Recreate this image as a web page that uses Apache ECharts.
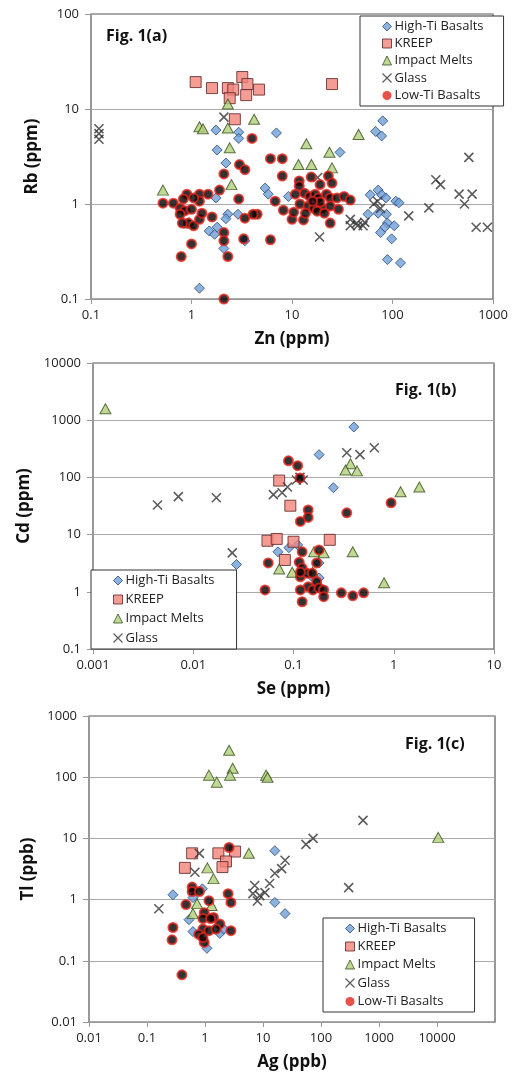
<!DOCTYPE html>
<html>
<head>
<meta charset="utf-8">
<script src="https://cdn.jsdelivr.net/npm/echarts@6/dist/echarts.min.js"></script>
<style>
body{margin:0;background:#fff;}
#main{width:513px;height:1078px;}
</style>
</head>
<body>
<div id="main"></div>
<script>
// names used in all three panels
var names = ['High-Ti Basalts','KREEP','Impact Melts','Glass','Low-Ti Basalts'];

// Fig 1(a): Zn (ppm) vs Rb (ppm)
var aHighTi = [[1.75,6.0],[2.95,5.7],[2.95,4.9],[1.8,3.7],[2.2,2.7],[1.75,1.16],[2.3,0.78],[2.2,0.7],[2.9,0.78],[1.5,0.52],[1.7,0.48],[1.8,0.57],[2.1,0.34],[3.4,0.41],[1.2,0.13],[7.0,5.6],[80,7.5],[68,5.8],[78,5.2],[30,3.5],[5.4,1.47],[5.8,1.27],[9.2,1.2],[72,1.4],[78,1.25],[60,1.25],[86,1.16],[108,1.07],[116,1.03],[72,0.8],[57,0.78],[87,0.78],[89,0.63],[104,0.59],[84,0.57],[76,0.5],[98,0.43],[89,0.26],[120,0.24]];
var aKreep = [[1.1,19.2],[1.6,16.6],[2.3,16.6],[2.6,16],[3.2,21.7],[3.6,18.3],[3.5,14],[2.4,13],[2.7,7.8],[4.7,16],[25,18.3]];
var aImpact = [[2.3,11.3],[1.2,6.5],[1.3,6.2],[2.3,6.3],[4.2,7.8],[2.4,3.9],[0.52,1.4],[2.5,1.6],[13.9,4.3],[46,5.4],[23.6,3.5],[11.6,2.6],[15.6,2.6],[25,2.4],[0.95,0.63]];
var aGlass = [[0.12,6.2],[0.12,5.5],[0.12,4.8],[2.1,8.2],[575,3.1],[18,1.9],[270,1.8],[300,1.6],[460,1.27],[620,1.27],[520,1.0],[230,0.91],[145,0.75],[680,0.57],[880,0.57],[18.8,0.45],[38,0.69],[44,0.63],[51,0.59],[38,0.59],[45,0.59],[53,0.64],[71,1.07],[65,1.0],[76,0.9]];
var aLowTi = [[0.52,1.02],[0.66,1.02],[0.9,1.27],[1.2,1.27],[0.77,0.9],[0.86,0.85],[1.0,0.88],[1.2,1.07],[1.05,1.16],[0.83,1.13],[0.77,0.78],[0.93,0.63],[1.05,0.59],[1.2,0.69],[1.27,0.8],[1.6,0.73],[0.81,0.63],[1.0,0.38],[0.79,0.28],[2.1,0.5],[2.1,0.41],[2.3,0.28],[2.1,0.1],[3.0,2.6],[3.4,2.3],[2.1,2.07],[1.9,1.4],[2.95,1.13],[3.4,0.71],[3.3,0.43],[4.5,0.78],[1.46,1.27],[4.0,4.9],[6.1,3.0],[8.0,3.0],[8,1.97],[4.1,0.78],[6.1,0.42],[6.8,1.07],[8.2,0.86],[10,0.69],[13,0.68],[11.8,1.75],[11.8,1.55],[15.5,1.92],[19,1.6],[23,1.97],[25,1.66],[10.8,1.27],[13.3,1.3],[15,1.2],[17,1.27],[18.3,1.16],[22,1.27],[24,1.16],[28,1.16],[33,1.2],[38,1.1],[12,1.0],[14.5,0.95],[16.5,0.9],[20,0.9],[24,0.95],[29,0.88],[13.6,0.8],[17.8,0.84],[21,0.8],[24,0.63],[19,1.05],[16,1.07],[10.4,0.82]];

// Fig 1(b): Se (ppm) vs Cd (ppm)
var bHighTi = [[0.4,760],[0.18,250],[0.25,66],[0.027,3.0],[0.07,5.0],[0.09,5.9],[0.11,6.6],[0.18,3.2],[0.18,1.75],[0.15,1.9],[0.17,1.4]];
var bKreep = [[0.072,88],[0.093,32],[0.055,7.8],[0.068,8.4],[0.1,7.5],[0.23,8.1],[0.082,3.6]];
var bImpact = [[0.00133,1580],[0.37,173],[0.33,135],[0.43,130],[1.17,56],[1.8,68],[0.16,5.0],[0.2,4.8],[0.39,5.0],[0.072,2.5],[0.097,2.2],[0.155,2.2],[0.8,1.44]];
var bGlass = [[0.0044,33],[0.0071,46],[0.017,44],[0.0245,4.8],[0.34,270],[0.46,250],[0.64,330],[0.116,100],[0.125,90],[0.107,90],[0.087,68],[0.077,54],[0.063,50]];
var bLowTi = [[0.089,195],[0.11,160],[0.116,98],[0.94,36],[0.34,24],[0.14,27],[0.14,20],[0.117,17],[0.056,3.2],[0.052,1.08],[0.114,3.3],[0.122,5.0],[0.18,5.4],[0.17,3.2],[0.122,2.6],[0.117,1.83],[0.137,2.1],[0.154,2.1],[0.17,1.5],[0.14,1.22],[0.117,1.08],[0.156,1.08],[0.18,1.17],[0.2,1.08],[0.2,0.82],[0.3,0.96],[0.39,0.85],[0.5,0.96],[0.122,0.67],[0.117,2.2]];

// Fig 1(c): Ag (ppb) vs Tl (ppb)
var cHighTi = [[16,6.3],[16,0.9],[24,0.59],[0.28,1.2],[0.62,1.08],[0.9,1.5],[0.53,0.47],[0.62,0.3],[1.08,0.16],[1.8,0.28],[2.1,0.33]];
var cKreep = [[0.6,5.7],[1.7,5.7],[3.3,6.1],[2.3,4.2],[0.45,3.3],[2.0,3.4]];
var cImpact = [[2.6,276],[1.17,108],[1.6,83],[3.0,140],[2.7,108],[11.3,108],[12,100],[10500,10.4],[5.7,5.7],[1.1,3.3],[1.4,2.2],[0.73,0.86],[1.3,0.8],[0.62,0.59]];
var cGlass = [[0.16,0.71],[0.67,2.8],[0.8,5.7],[530,19.7],[73,10],[55,8],[24,4.4],[300,1.57],[7.2,1.7],[8.8,1.16],[13,1.83],[16,2.7],[21,3.2],[6.7,1.25],[10.8,1.3],[8,0.95]];
var cLowTi = [[0.6,1.6],[0.6,1.35],[0.8,1.35],[0.47,0.83],[1.17,0.96],[0.97,0.61],[0.92,0.49],[1.4,0.51],[1.25,0.49],[0.92,0.33],[1.17,0.31],[1.8,0.4],[1.55,0.33],[0.78,0.27],[0.97,0.2],[0.92,0.24],[0.28,0.35],[0.27,0.22],[0.4,0.059],[2.5,1.25],[2.8,0.9],[2.8,0.31],[2.6,7.1]];

// axis ranges / names
var xNames = ['Zn (ppm)','Se (ppm)','Ag (ppb)'];
var yNames = ['Rb (ppm)','Cd (ppm)','Tl (ppb)'];
var xMin = [0.1,0.001,0.01], xMax = [1000,10,100000];
var yMin = [0.1,0.1,0.01], yMax = [100,10000,1000];
var xShowMax = [true,true,false];
var figLabels = ['Fig. 1(a)','Fig. 1(b)','Fig. 1(c)'];

var font = 'Open Sans';
var xPath = 'path://M0,0L10,10M10,0L0,10';

// marker look per group
var styles = {
	'High-Ti Basalts':{symbol:'diamond',size:[10,10],item:{color:'#6f9fd8',borderColor:'#2b4a78',borderWidth:1}},
	'KREEP':{symbol:'rect',size:11,item:{color:'#f2837b',borderColor:'#5a2323',borderWidth:1}},
	'Impact Melts':{symbol:'triangle',size:[11,10],item:{color:'#b3d07a',borderColor:'#34501a',borderWidth:1}},
	'Glass':{symbol:xPath,size:9,item:{color:'none',borderColor:'#333',borderWidth:1.6}},
	'Low-Ti Basalts':{symbol:'circle',size:9,item:{color:'#000',borderColor:'#e3241b',borderWidth:2}}
};

// small icons drawn in the legend boxes
var legendIcons = {
	'High-Ti Basalts':{icon:'diamond',itemStyle:{color:'#6f9fd8',borderColor:'#2b4a78',borderWidth:1}},
	'KREEP':{icon:'rect',itemStyle:{color:'#f2837b',borderColor:'#5a2323',borderWidth:1}},
	'Impact Melts':{icon:'triangle',itemStyle:{color:'#b3d07a',borderColor:'#34501a',borderWidth:1}},
	'Glass':{icon:xPath,itemStyle:{color:'none',borderColor:'#333',borderWidth:1.2}},
	'Low-Ti Basalts':{icon:'circle',itemStyle:{color:'#e3241b',borderWidth:0}}
};

var panels = [
	[aHighTi,aKreep,aImpact,aGlass,aLowTi],
	[bHighTi,bKreep,bImpact,bGlass,bLowTi],
	[cHighTi,cKreep,cImpact,cGlass,cLowTi]
];

var grids = [
	{left:91,top:14,width:402,height:285},
	{left:93,top:363,width:401,height:286},
	{left:89,top:716,width:406,height:306}
];

function plain(v){
	return String(Number(v.toPrecision(6)));
}

var xAxes=[],yAxes=[],series=[],graphics=[];
for(var i=0;i<3;i++){
	grids[i].show=true;
	grids[i].borderColor='#555';
	grids[i].borderWidth=1.2;
	xAxes.push({
		type:'log',logBase:10,gridIndex:i,min:xMin[i],max:xMax[i],
		name:xNames[i],nameLocation:'middle',nameGap:32,
		nameTextStyle:{fontFamily:font,fontWeight:'bold',fontSize:17,color:'#111'},
		axisLine:{lineStyle:{color:'#999'}},
		axisTick:{show:true,length:5,lineStyle:{color:'#999'}},
		splitLine:{show:false},
		axisLabel:{fontFamily:font,fontSize:13,color:'#222',margin:10,formatter:plain,showMaxLabel:xShowMax[i]}
	});
	yAxes.push({
		type:'log',logBase:10,gridIndex:i,min:yMin[i],max:yMax[i],
		name:yNames[i],nameLocation:'middle',nameGap:50,nameRotate:90,
		nameTextStyle:{fontFamily:font,fontWeight:'bold',fontSize:17,color:'#111'},
		axisLine:{lineStyle:{color:'#999'}},
		axisTick:{show:true,length:6,lineStyle:{color:'#999'}},
		splitLine:{show:true,lineStyle:{color:'#aaa',width:1}},
		axisLabel:{fontFamily:font,fontSize:13,color:'#222',margin:12,formatter:plain}
	});
	for(var j=0;j<names.length;j++){
		var st=styles[names[j]];
		series.push({
			type:'scatter',name:names[j],xAxisIndex:i,yAxisIndex:i,
			data:panels[i][j],symbol:st.symbol,symbolSize:st.size,
			itemStyle:st.item,z:j==4?3:2
		});
	}
}

// figure labels
graphics.push({type:'text',left:106,top:28,style:{text:figLabels[0],font:'bold 16px "'+font+'"',fill:'#111'}});
graphics.push({type:'text',left:395,top:382,style:{text:figLabels[1],font:'bold 16px "'+font+'"',fill:'#111'}});
graphics.push({type:'text',left:405,top:736,style:{text:figLabels[2],font:'bold 16px "'+font+'"',fill:'#111'}});

function legendAt(left,top,list,gap,padR){
	var data=[];
	for(var k=0;k<list.length;k++){
		data.push({name:list[k],icon:legendIcons[list[k]].icon,itemStyle:legendIcons[list[k]].itemStyle});
	}
	return {
		data:data,orient:'vertical',left:left,top:top,
		itemWidth:9,itemHeight:9,itemGap:gap,selectedMode:false,
		backgroundColor:'#fff',borderColor:'#333',borderWidth:1,
		padding:[4,padR,4,20],
		textStyle:{fontFamily:font,fontSize:13,color:'#222',padding:[0,0,0,-2]}
	};
}

var myChart=echarts.init(document.getElementById('main'),null,{renderer:'canvas'});
myChart.setOption({
	animation:false,
	backgroundColor:'#fff',
	grid:grids,
	xAxis:xAxes,
	yAxis:yAxes,
	series:series,
	graphic:graphics,
	legend:[
		legendAt(360,16,names,4,20),
		legendAt(91,570,names.slice(0,4),6,22),
		legendAt(323,918,names,5,28)
	]
});
</script>
</body>
</html>
